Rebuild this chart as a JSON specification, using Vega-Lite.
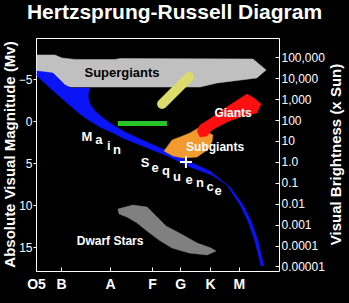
{
  "$schema": "https://vega.github.io/schema/vega-lite/v6.json",
  "width": 243,
  "height": 233,
  "autosize": "none",
  "padding": {"left": 36, "top": 38, "right": 70, "bottom": 32},
  "background": "black",
  "title": {
    "text": "Hertzsprung-Russell Diagram",
    "anchor": "middle",
    "frame": "group",
    "dx": 17,
    "fontSize": 21,
    "font": "Liberation Sans",
    "fontWeight": "bold",
    "color": "white",
    "baseline": "alphabetic",
    "offset": -2
  },
  "config": {
    "view": {"stroke": "white", "strokeWidth": 1},
    "font": "Liberation Sans",
    "axis": {"grid": false, "domain": false, "tickColor": "white", "labelColor": "white", "titleColor": "white", "labelFont": "Liberation Sans", "titleFont": "Liberation Sans"}
  },
  "datasets": {
    "regions": [
      {"region": "supergiants", "i": 0, "spec": 0.04, "mv": -7.88},
      {"region": "supergiants", "i": 1, "spec": 0.78, "mv": -7.88},
      {"region": "supergiants", "i": 2, "spec": 1.07, "mv": -7.52},
      {"region": "supergiants", "i": 3, "spec": 1.6, "mv": -7.35},
      {"region": "supergiants", "i": 4, "spec": 3.25, "mv": -7.35},
      {"region": "supergiants", "i": 5, "spec": 3.46, "mv": -7.45},
      {"region": "supergiants", "i": 6, "spec": 8.93, "mv": -7.4},
      {"region": "supergiants", "i": 7, "spec": 9.47, "mv": -6.09},
      {"region": "supergiants", "i": 8, "spec": 9.09, "mv": -5.14},
      {"region": "supergiants", "i": 9, "spec": 7.45, "mv": -4.54},
      {"region": "supergiants", "i": 10, "spec": 6.75, "mv": -4.06},
      {"region": "supergiants", "i": 11, "spec": 1.4, "mv": -4.06},
      {"region": "supergiants", "i": 12, "spec": 1.19, "mv": -4.3},
      {"region": "supergiants", "i": 13, "spec": 0.7, "mv": -5.6},
      {"region": "supergiants", "i": 14, "spec": 0.04, "mv": -5.85},

      {"region": "main", "i": 0, "spec": 0.04, "mv": -5.97},
      {"region": "main", "i": 1, "spec": 0.7, "mv": -5.73},
      {"region": "main", "i": 2, "spec": 0.99, "mv": -4.9},
      {"region": "main", "i": 3, "spec": 1.19, "mv": -4.3},
      {"region": "main", "i": 4, "spec": 1.44, "mv": -3.94},
      {"region": "main", "i": 5, "spec": 2.22, "mv": -3.94},
      {"region": "main", "i": 6, "spec": 2.14, "mv": -2.99},
      {"region": "main", "i": 7, "spec": 2.22, "mv": -2.04},
      {"region": "main", "i": 8, "spec": 2.43, "mv": -1.21},
      {"region": "main", "i": 9, "spec": 2.76, "mv": -0.37},
      {"region": "main", "i": 10, "spec": 3.17, "mv": 0.46},
      {"region": "main", "i": 11, "spec": 3.66, "mv": 1.3},
      {"region": "main", "i": 12, "spec": 4.28, "mv": 2.13},
      {"region": "main", "i": 13, "spec": 5.31, "mv": 3.44},
      {"region": "main", "i": 14, "spec": 6.34, "mv": 4.87},
      {"region": "main", "i": 15, "spec": 7.16, "mv": 5.94},
      {"region": "main", "i": 16, "spec": 7.86, "mv": 7.61},
      {"region": "main", "i": 17, "spec": 8.4, "mv": 9.99},
      {"region": "main", "i": 18, "spec": 8.72, "mv": 11.9},
      {"region": "main", "i": 19, "spec": 9.01, "mv": 14.28},
      {"region": "main", "i": 20, "spec": 9.26, "mv": 17.25},
      {"region": "main", "i": 21, "spec": 9.38, "mv": 17.25},
      {"region": "main", "i": 22, "spec": 9.14, "mv": 14.28},
      {"region": "main", "i": 23, "spec": 8.85, "mv": 11.9},
      {"region": "main", "i": 24, "spec": 8.52, "mv": 9.99},
      {"region": "main", "i": 25, "spec": 7.98, "mv": 7.85},
      {"region": "main", "i": 26, "spec": 7.24, "mv": 6.42},
      {"region": "main", "i": 27, "spec": 6.34, "mv": 5.46},
      {"region": "main", "i": 28, "spec": 5.31, "mv": 4.03},
      {"region": "main", "i": 29, "spec": 4.28, "mv": 2.84},
      {"region": "main", "i": 30, "spec": 3.66, "mv": 2.13},
      {"region": "main", "i": 31, "spec": 3.17, "mv": 1.41},
      {"region": "main", "i": 32, "spec": 2.63, "mv": 0.7},
      {"region": "main", "i": 33, "spec": 2.22, "mv": -0.01},
      {"region": "main", "i": 34, "spec": 1.81, "mv": -0.85},
      {"region": "main", "i": 35, "spec": 1.28, "mv": -2.16},
      {"region": "main", "i": 36, "spec": 0.58, "mv": -3.94},
      {"region": "main", "i": 37, "spec": 0.04, "mv": -5.37},

      {"region": "dwarfs", "i": 0, "spec": 3.37, "mv": 10.47},
      {"region": "dwarfs", "i": 1, "spec": 3.99, "mv": 9.99},
      {"region": "dwarfs", "i": 2, "spec": 4.57, "mv": 10.23},
      {"region": "dwarfs", "i": 3, "spec": 4.9, "mv": 11.18},
      {"region": "dwarfs", "i": 4, "spec": 5.35, "mv": 12.49},
      {"region": "dwarfs", "i": 5, "spec": 5.97, "mv": 13.44},
      {"region": "dwarfs", "i": 6, "spec": 6.63, "mv": 14.52},
      {"region": "dwarfs", "i": 7, "spec": 7.2, "mv": 15.11},
      {"region": "dwarfs", "i": 8, "spec": 7.41, "mv": 15.47},
      {"region": "dwarfs", "i": 9, "spec": 7.04, "mv": 15.94},
      {"region": "dwarfs", "i": 10, "spec": 6.3, "mv": 15.71},
      {"region": "dwarfs", "i": 11, "spec": 5.6, "mv": 15.11},
      {"region": "dwarfs", "i": 12, "spec": 5.06, "mv": 14.16},
      {"region": "dwarfs", "i": 13, "spec": 4.57, "mv": 13.09},
      {"region": "dwarfs", "i": 14, "spec": 4.16, "mv": 12.13},
      {"region": "dwarfs", "i": 15, "spec": 3.74, "mv": 11.42},
      {"region": "dwarfs", "i": 16, "spec": 3.42, "mv": 11.06},

      {"region": "subgiants", "i": 0, "spec": 5.27, "mv": 3.56},
      {"region": "subgiants", "i": 1, "spec": 5.6, "mv": 2.25},
      {"region": "subgiants", "i": 2, "spec": 5.93, "mv": 1.89},
      {"region": "subgiants", "i": 3, "spec": 6.34, "mv": 1.41},
      {"region": "subgiants", "i": 4, "spec": 6.75, "mv": 0.7},
      {"region": "subgiants", "i": 5, "spec": 7.04, "mv": 1.3},
      {"region": "subgiants", "i": 6, "spec": 7.28, "mv": 1.65},
      {"region": "subgiants", "i": 7, "spec": 7.24, "mv": 2.49},
      {"region": "subgiants", "i": 8, "spec": 7.04, "mv": 3.44},
      {"region": "subgiants", "i": 9, "spec": 6.63, "mv": 4.27},
      {"region": "subgiants", "i": 10, "spec": 6.05, "mv": 4.39},
      {"region": "subgiants", "i": 11, "spec": 5.64, "mv": 4.15},

      {"region": "giants", "i": 0, "spec": 6.63, "mv": 1.18},
      {"region": "giants", "i": 1, "spec": 6.75, "mv": 0.46},
      {"region": "giants", "i": 2, "spec": 7.28, "mv": -0.49},
      {"region": "giants", "i": 3, "spec": 7.98, "mv": -1.92},
      {"region": "giants", "i": 4, "spec": 8.68, "mv": -3.23},
      {"region": "giants", "i": 5, "spec": 8.97, "mv": -2.75},
      {"region": "giants", "i": 6, "spec": 9.26, "mv": -2.04},
      {"region": "giants", "i": 7, "spec": 9.09, "mv": -0.97},
      {"region": "giants", "i": 8, "spec": 8.4, "mv": -0.49},
      {"region": "giants", "i": 9, "spec": 7.86, "mv": 0.1},
      {"region": "giants", "i": 10, "spec": 7.24, "mv": 1.06},
      {"region": "giants", "i": 11, "spec": 7.04, "mv": 1.77},
      {"region": "giants", "i": 12, "spec": 6.75, "mv": 1.89}
    ],
    "bars": [
      {"band": "bright giants", "i": 0, "spec": 5.19, "mv": -2.04},
      {"band": "bright giants", "i": 1, "spec": 6.3, "mv": -5.26},
      {"band": "horizontal branch", "i": 0, "spec": 3.37, "mv": 0.28},
      {"band": "horizontal branch", "i": 1, "spec": 5.39, "mv": 0.28}
    ],
    "names": [
      {"name": "Supergiants", "spec": 3.54, "mv": -5.73},
      {"name": "Giants", "spec": 8.11, "mv": -0.97},
      {"name": "Subgiants", "spec": 7.37, "mv": 3.08},
      {"name": "Dwarf Stars", "spec": 3.05, "mv": 14.28}
    ],
    "sequence": [
      {"letter": "M", "spec": 2.1, "mv": 2.37},
      {"letter": "a", "spec": 2.59, "mv": 2.72},
      {"letter": "i", "spec": 3.0, "mv": 3.44},
      {"letter": "n", "spec": 3.33, "mv": 3.92},
      {"letter": "S", "spec": 4.49, "mv": 5.46},
      {"letter": "e", "spec": 4.9, "mv": 6.06},
      {"letter": "q", "spec": 5.35, "mv": 6.42},
      {"letter": "u", "spec": 5.8, "mv": 7.13},
      {"letter": "e", "spec": 6.3, "mv": 7.49},
      {"letter": "n", "spec": 6.75, "mv": 7.85},
      {"letter": "c", "spec": 7.16, "mv": 8.32},
      {"letter": "e", "spec": 7.49, "mv": 8.8}
    ],
    "sun": [
      {"star": "Sun", "spec": 6.17, "brightness": 1}
    ]
  },
  "encoding": {
    "x": {
      "field": "spec", "type": "quantitative",
      "scale": {"domain": [0, 10], "nice": false, "zero": false},
      "axis": {
        "orient": "bottom",
        "title": null,
        "values": [0, 1.03, 3.05, 4.77, 5.93, 7.16, 8.35],
        "labelExpr": "datum.value < 0.5 ? 'O5' : datum.value < 2 ? 'B' : datum.value < 4 ? 'A' : datum.value < 5.3 ? 'F' : datum.value < 6.5 ? 'G' : datum.value < 7.7 ? 'K' : 'M'",
        "tickSize": -4,
        "labelPadding": 10,
        "labelFontSize": 14,
        "labelFontWeight": "bold",
        "labelFlush": false,
        "labelBound": false
      }
    }
  },
  "layer": [
    {
      "data": {"name": "regions"},
      "transform": [{"filter": "datum.region === 'supergiants'"}],
      "mark": {"type": "line", "interpolate": "linear-closed", "fill": "#c0c0c0", "stroke": "#c0c0c0", "strokeWidth": 0.5},
      "encoding": {
        "y": {
          "field": "mv", "type": "quantitative",
          "scale": {"domain": [-9.9, 17.85], "reverse": true, "nice": false, "zero": false},
          "axis": {
            "orient": "left",
            "title": "Absolute Visual Magnitude (Mv)",
            "values": [-5, 0, 5, 10, 15],
            "tickSize": 3,
            "labelPadding": 1,
            "labelFontSize": 12,
            "titleFontSize": 15,
            "titleFontWeight": "bold",
            "titleAngle": -90,
            "titleAlign": "center",
            "titleBaseline": "middle",
            "titleX": -27,
            "titleY": 116
          }
        },
        "order": {"field": "i", "type": "quantitative"}
      }
    },
    {
      "data": {"name": "regions"},
      "transform": [{"filter": "datum.region === 'main'"}],
      "mark": {"type": "line", "interpolate": "linear-closed", "fill": "#0a14f5", "stroke": "#0a14f5", "strokeWidth": 0.5},
      "encoding": {
        "y": {"field": "mv", "type": "quantitative", "scale": {"domain": [-9.9, 17.85], "reverse": true, "nice": false, "zero": false}, "axis": null},
        "order": {"field": "i", "type": "quantitative"}
      }
    },
    {
      "data": {"name": "regions"},
      "transform": [{"filter": "datum.region === 'dwarfs'"}],
      "mark": {"type": "line", "interpolate": "linear-closed", "fill": "#808080", "stroke": "#808080", "strokeWidth": 0.5},
      "encoding": {
        "y": {"field": "mv", "type": "quantitative", "scale": {"domain": [-9.9, 17.85], "reverse": true, "nice": false, "zero": false}, "axis": null},
        "order": {"field": "i", "type": "quantitative"}
      }
    },
    {
      "data": {"name": "regions"},
      "transform": [{"filter": "datum.region === 'subgiants'"}],
      "mark": {"type": "line", "interpolate": "linear-closed", "fill": "#f09a30", "stroke": "#f09a30", "strokeWidth": 0.5},
      "encoding": {
        "y": {"field": "mv", "type": "quantitative", "scale": {"domain": [-9.9, 17.85], "reverse": true, "nice": false, "zero": false}, "axis": null},
        "order": {"field": "i", "type": "quantitative"}
      }
    },
    {
      "data": {"name": "regions"},
      "transform": [{"filter": "datum.region === 'giants'"}],
      "mark": {"type": "line", "interpolate": "linear-closed", "fill": "#ff1010", "stroke": "#ff1010", "strokeWidth": 0.5},
      "encoding": {
        "y": {"field": "mv", "type": "quantitative", "scale": {"domain": [-9.9, 17.85], "reverse": true, "nice": false, "zero": false}, "axis": null},
        "order": {"field": "i", "type": "quantitative"}
      }
    },
    {
      "data": {"name": "bars"},
      "transform": [{"filter": "datum.band === 'bright giants'"}],
      "mark": {"type": "line", "color": "#dcdc6c", "strokeWidth": 10, "strokeCap": "round"},
      "encoding": {
        "y": {"field": "mv", "type": "quantitative", "scale": {"domain": [-9.9, 17.85], "reverse": true, "nice": false, "zero": false}, "axis": null},
        "order": {"field": "i", "type": "quantitative"}
      }
    },
    {
      "data": {"name": "bars"},
      "transform": [{"filter": "datum.band === 'horizontal branch'"}],
      "mark": {"type": "line", "color": "#28c428", "strokeWidth": 5, "strokeCap": "butt"},
      "encoding": {
        "y": {"field": "mv", "type": "quantitative", "scale": {"domain": [-9.9, 17.85], "reverse": true, "nice": false, "zero": false}, "axis": null},
        "order": {"field": "i", "type": "quantitative"}
      }
    },
    {
      "data": {"name": "names"},
      "transform": [{"filter": "datum.name === 'Supergiants'"}],
      "mark": {"type": "text", "font": "Liberation Sans", "fontWeight": "bold", "fontSize": 13, "color": "black", "baseline": "middle", "align": "center"},
      "encoding": {
        "y": {"field": "mv", "type": "quantitative", "scale": {"domain": [-9.9, 17.85], "reverse": true, "nice": false, "zero": false}, "axis": null},
        "text": {"field": "name"}
      }
    },
    {
      "data": {"name": "names"},
      "transform": [{"filter": "datum.name !== 'Supergiants'"}],
      "mark": {"type": "text", "font": "Liberation Sans", "fontWeight": "bold", "fontSize": 12, "color": "white", "baseline": "middle", "align": "center"},
      "encoding": {
        "y": {"field": "mv", "type": "quantitative", "scale": {"domain": [-9.9, 17.85], "reverse": true, "nice": false, "zero": false}, "axis": null},
        "text": {"field": "name"}
      }
    },
    {
      "data": {"name": "sequence"},
      "mark": {"type": "text", "font": "Liberation Sans", "fontWeight": "bold", "fontSize": 13, "color": "white", "baseline": "alphabetic", "align": "center"},
      "encoding": {
        "y": {"field": "mv", "type": "quantitative", "scale": {"domain": [-9.9, 17.85], "reverse": true, "nice": false, "zero": false}, "axis": null},
        "text": {"field": "letter"}
      }
    },
    {
      "data": {"name": "sun"},
      "mark": {"type": "point", "shape": "M-1,0H1M0,-1V1", "filled": false, "color": "white", "strokeWidth": 2, "size": 144, "opacity": 1},
      "encoding": {
        "y": {
          "field": "brightness", "type": "quantitative",
          "scale": {"type": "log", "domain": [0.00000603, 847000], "nice": false},
          "axis": {
            "orient": "right",
            "title": "Visual Brightness (x Sun)",
            "values": [0.00001, 0.0001, 0.001, 0.01, 0.1, 1, 10, 100, 1000, 10000, 100000],
            "labelExpr": "datum.value >= 10 ? format(datum.value, ',') : datum.value == 1 ? '1.0' : format(datum.value, '.5~f')",
            "tickSize": -4,
            "labelPadding": 6,
            "labelFontSize": 12,
            "titleFontSize": 15,
            "titleFontWeight": "bold",
            "titleAngle": -90,
            "titleAlign": "center",
            "titleBaseline": "middle",
            "titleX": 56,
            "titleY": 116
          }
        }
      }
    }
  ],
  "resolve": {"scale": {"y": "independent"}}
}
